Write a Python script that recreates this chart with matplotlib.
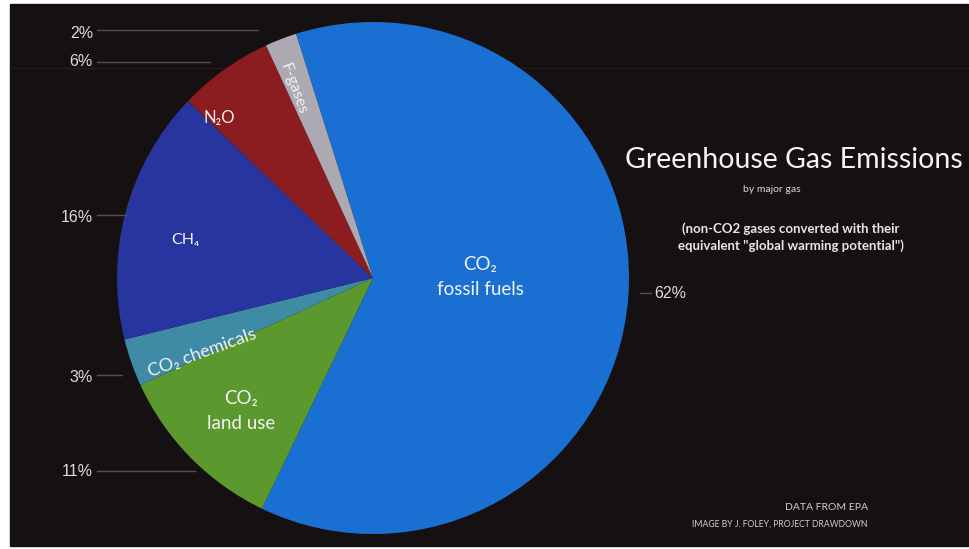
import matplotlib
matplotlib.use("Agg")
import matplotlib.pyplot as plt

# Emission shares by gas (percent), clockwise from the top
gases = ["CO\u2082\nfossil fuels", "CO\u2082\nland use", "CO\u2082 chemicals",
         "CH\u2084", "N\u2082O", "F-gases"]
shares = [62, 11, 3, 16, 6, 2]
colors = ["#1a70d2", "#5b982e", "#3f8aa4", "#28359f", "#8b1c20", "#aca9b3"]
pct_labels = [f"{v}%" for v in shares]

W, H = 970, 549
fig = plt.figure(figsize=(W / 100, H / 100), dpi=100)
fig.patch.set_facecolor("white")

# background panel in pixel coordinates
bg = fig.add_axes([0, 0, 1, 1], zorder=0)
bg.set_xlim(0, W)
bg.set_ylim(H, 0)
bg.axis("off")
bg.add_patch(plt.Rectangle((10, 4), 958, 542, color="#151112", zorder=0))
# faint rule across the top
bg.plot([10, 968], [68, 68], color="#2c191d", lw=1.0, zorder=1)

# pie axes: centre (373, 278), radius 256 px
cx, cy, r = 373, 278, 256
pax = fig.add_axes([(cx - r) / W, (H - cy - r) / H, 2 * r / W, 2 * r / H], zorder=1)
pax.pie(shares, colors=colors, startangle=107.5, counterclock=False,
        radius=1, wedgeprops=dict(linewidth=0))
pax.set_xlim(-1, 1)
pax.set_ylim(-1, 1)
pax.axis("off")

top = fig.add_axes([0, 0, 1, 1], zorder=3)
top.set_xlim(0, W)
top.set_ylim(H, 0)
top.axis("off")
top.patch.set_alpha(0)

lab_font = ["Lato", "DejaVu Sans"]
wc = "#f2f2f2"

# slice labels: x, y, rotation, size, line spacing
slice_pos = [(480, 277, 0, 13.5, 1.6), (241, 411, 0, 13.5, 1.55),
             (202, 353, 20, 13, 1.2), (185, 240, 0, 11.5, 1.2),
             (219, 118, 0, 12, 1.2), (293, 89, -70, 11.5, 1.2)]
for name, (x, y, rot, fs, ls) in zip(gases, slice_pos):
    top.text(x, y, name, color=wc, fontsize=fs, ha="center", va="center",
             rotation=rot, family=lab_font, linespacing=ls,
             rotation_mode="anchor")

# percentage callouts with leader lines
pct_font = ["Liberation Sans", "DejaVu Sans"]
callouts = {
    # share index: (text y, line x1, line y)
    1: (472, 195, 471),   # 11%
    2: (377, 122, 375),   # 3%
    3: (218, 128, 215),   # 16%
    4: (62, 210, 62),     # 6%
    5: (33, 258, 30),     # 2%
}
for idx, (ty, x1, ly) in callouts.items():
    top.plot([97, x1], [ly, ly], color="#55504f", lw=1.0)
    top.text(93, ty, pct_labels[idx], color="#dcdcdc",
             fontsize=11.5, ha="right", va="center", family=pct_font)
top.plot([640, 651], [293, 293], color="#55504f", lw=1.0)
top.text(654, 294, pct_labels[0], color="#dcdcdc", fontsize=11.5,
         ha="left", va="center", family=pct_font)

# title block
top.text(794, 160, "Greenhouse Gas Emissions", color="#f4f4f4", fontsize=20.5,
         ha="center", va="center", family=lab_font)
top.text(772, 190, "by major gas", color="#d8d8d8", fontsize=7.5,
         ha="center", va="center", family=lab_font)
top.text(791, 237, "(non-CO2 gases converted with their\n"
         "equivalent \"global warming potential\")", color="#e6e6e6",
         fontsize=9.5, ha="center", va="center", family=lab_font,
         linespacing=1.35, weight="bold")

# credits
top.text(868, 507, "DATA FROM EPA", color="#cfcfcf", fontsize=7.5,
         ha="right", va="center", family=lab_font)
top.text(868, 524, "IMAGE BY J. FOLEY, PROJECT DRAWDOWN", color="#cfcfcf",
         fontsize=6.2, ha="right", va="center", family=lab_font)

fig.savefig("out.png", dpi=100, facecolor=fig.get_facecolor())
